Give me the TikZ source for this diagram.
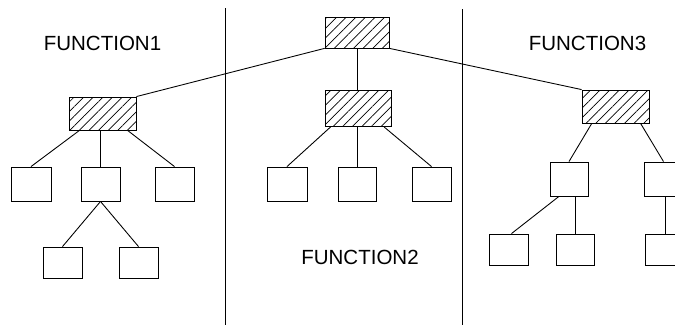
\documentclass[tikz,border=0pt]{standalone}
\usepackage{fontspec}
\setmainfont{Liberation Sans}
\usetikzlibrary{patterns.meta,calc}
\begin{document}
\begin{tikzpicture}[x=0.03cm,y=-0.03cm,line width=0.75pt,
  box/.style={draw,rectangle,inner sep=0pt,minimum width=39*0.03cm,minimum height=34*0.03cm},
  gbox/.style={box,minimum height=31*0.03cm},
  hbox/.style={draw,rectangle,inner sep=0pt,minimum width=67*0.03cm,minimum height=33*0.03cm,
     pattern={Lines[angle=45,distance=5.8pt,line width=0.6pt]}},
  lbl/.style={font=\fontsize{17.5}{19}\selectfont}]
\useasboundingbox (0,0) rectangle (675,325);
\clip (0,0) rectangle (675,325);
% separators
\coordinate (s1t) at (225,8); \coordinate (s1b) at (225,325);
\coordinate (s2t) at (462,9); \coordinate (s2b) at (462,325);
\draw (s1t) -- (s1b);
\draw (s2t) -- (s2b);
% labels
\node[lbl] (t1) at (102.5,43) {FUNCTION1};
\node[lbl] (t2) at (360,257) {FUNCTION2};
\node[lbl] (t3) at (587.5,43) {FUNCTION3};
% hatched boxes
\node[hbox,minimum width=64*0.03cm,minimum height=31*0.03cm] (root) at (357,32.5) {};
\node[hbox] (f1) at (102.5,113.5) {};
\node[hbox,minimum width=66*0.03cm,minimum height=36*0.03cm] (f2) at (358,108.5) {};
\node[hbox] (f3) at (615.5,106.5) {};
% function 1
\node[box,minimum width=40*0.03cm] (c11) at (31,184) {};
\node[box] (c12) at (100.5,184) {};
\node[box] (c13) at (174.5,184) {};
\node[gbox] (g11) at (62.5,262.5) {};
\node[gbox] (g12) at (138.5,262.5) {};
% function 2
\node[box,minimum width=40*0.03cm] (c21) at (287,184) {};
\node[box,minimum width=38*0.03cm] (c22) at (357,184) {};
\node[box] (c23) at (431.5,184) {};
% function 3
\node[box,minimum width=38*0.03cm] (c31) at (569,179) {};
\node[box] (c32) at (663.5,179) {};
\node[gbox] (g31) at (508.5,249.5) {};
\node[gbox,minimum width=38*0.03cm] (g32) at (575,249.5) {};
\node[gbox] (g33) at (665,249.5) {};
% connectors
\draw (root.south west) -- (f1.north east);
\draw (root.south) -- (root.south |- f2.north);
\draw (root.south east) -- (f3.north west);
\draw ($(f1.south west)!0.16!(f1.south east)$) -- (c11.north);
\draw (f1.south -| c12.north) -- (c12.north);
\draw ($(f1.south west)!0.87!(f1.south east)$) -- (c13.north);
\draw (c12.south) -- (g11.north);
\draw (c12.south) -- (g12.north);
\draw ($(f2.south west)!0.09!(f2.south east)$) -- (c21.north);
\draw (f2.south -| c22.north) -- (c22.north);
\draw ($(f2.south west)!0.89!(f2.south east)$) -- (c23.north);
\draw ($(f3.south west)!0.15!(f3.south east)$) -- (c31.north);
\draw ($(f3.south west)!0.87!(f3.south east)$) -- (c32.north);
\draw ($(c31.south west)!0.24!(c31.south east)$) -- ($(g31.north)+(3,0)$);
\draw (c31.south -| g32.north) -- (g32.north);
\draw (c32.south -| g33.north) -- (g33.north);
\end{tikzpicture}
\end{document}
